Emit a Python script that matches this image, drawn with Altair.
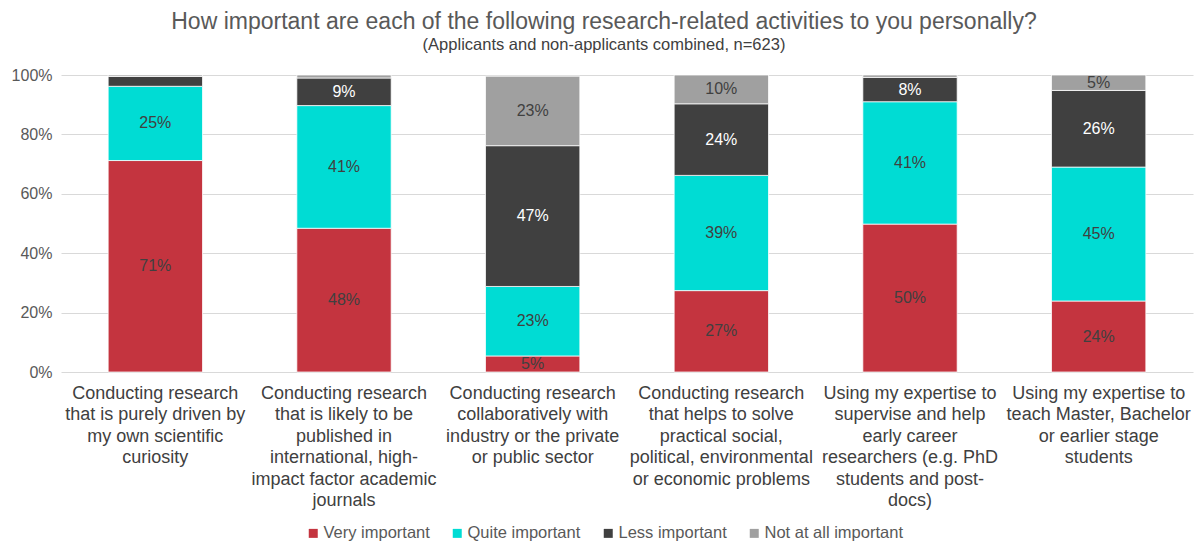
import altair as alt
import pandas as pd

category_lines = [
    ["Conducting research", "that is purely driven by", "my own scientific", "curiosity"],
    ["Conducting research", "that is likely to be", "published in", "international, high-", "impact factor academic", "journals"],
    ["Conducting research", "collaboratively with", "industry or the private", "or public sector"],
    ["Conducting research", "that helps to solve", "practical social,", "political, environmental", "or economic problems"],
    ["Using my expertise to", "supervise and help", "early career", "researchers (e.g. PhD", "students and post-", "docs)"],
    ["Using my expertise to", "teach Master, Bachelor", "or earlier stage", "students"],
]
series = ["Very important", "Quite important", "Less important", "Not at all important"]
very = [71.2, 48.4, 5.4, 27.4, 49.8, 23.9]
quite = [25.0, 41.3, 23.4, 38.8, 41.2, 45.1]
less = [3.3, 9.3, 47.4, 24.1, 8.2, 25.8]
not_at_all = [0.5, 1.0, 23.4, 9.7, 0.8, 5.2]
colors = ["#C4343F", "#00DCD4", "#404040", "#A0A0A0"]

FONT = "Liberation Sans"

rows = []
for i, lines in enumerate(category_lines):
    cat = "|".join(lines)
    for j, (s, vals) in enumerate(zip(series, [very, quite, less, not_at_all])):
        rows.append({"cat": cat, "series": s, "order": j, "value": vals[i] / 100})
df = pd.DataFrame(rows)
cat_order = ["|".join(l) for l in category_lines]

base = alt.Chart(df).transform_stack(
    stack="value", groupby=["cat"], sort=[alt.SortField("order")], as_=["y0", "y1"]
).transform_calculate(mid="(datum.y0 + datum.y1) / 2")

x_enc = alt.X(
    "cat:N",
    sort=cat_order,
    title=None,
    scale=alt.Scale(paddingInner=0.5, paddingOuter=0.25),
    axis=alt.Axis(
        labelExpr="split(datum.label, '|')",
        labelAngle=0,
        labelFontSize=18,
        labelFont=FONT,
        labelColor="#404040",
        labelLineHeight=21.5,
        labelBaseline="top",
        labelPadding=12,
        labelLimit=0,
        ticks=False,
        domain=False,
        grid=False,
    ),
)

bars = base.mark_bar(stroke="white", strokeWidth=0.75).encode(
    x=x_enc,
    y=alt.Y(
        "y0:Q",
        title=None,
        scale=alt.Scale(domain=[0, 1], nice=False),
        axis=alt.Axis(
            values=[0, 0.2, 0.4, 0.6, 0.8, 1.0],
            format=".0%",
            labelFontSize=16,
            labelFont=FONT,
            labelColor="#595959",
            labelPadding=9,
            ticks=False,
            domain=False,
            gridColor="#D9D9D9",
            gridWidth=1,
        ),
    ),
    y2="y1:Q",
    color=alt.Color(
        "series:N",
        scale=alt.Scale(domain=series, range=colors),
        legend=alt.Legend(
            title=None,
            orient="none",
            direction="horizontal",
            legendX=244,
            legendY=450,
            symbolType="square",
            symbolSize=81,
            symbolStrokeWidth=0,
            labelFontSize=16.5,
            labelFont=FONT,
            labelColor="#595959",
            labelOffset=2,
            columnPadding=19,
        ),
    ),
)

text = base.transform_filter("datum.value >= 0.045").mark_text(
    fontSize=16, font=FONT
).encode(
    x=alt.X("cat:N", sort=cat_order),
    y=alt.Y("mid:Q"),
    text=alt.Text("value:Q", format=".0%"),
    color=alt.condition(
        "datum.series == 'Less important'", alt.value("white"), alt.value("#404040")
    ),
)

chart = (
    alt.layer(bars, text)
    .properties(
        width=1132,
        height=297,
        padding={"left": 61, "top": 75, "right": 2, "bottom": 170},
        autosize=alt.AutoSizeParams(type="none"),
        title=alt.TitleParams(
            text="How important are each of the following research-related activities to you personally?",
            subtitle="(Applicants and non-applicants combined, n=623)",
            fontSize=23,
            subtitleFontSize=16.5,
            font=FONT,
            subtitleFont=FONT,
            fontWeight="normal",
            color="#595959",
            subtitleColor="#404040",
            anchor="middle",
            offset=14,
            dx=-23,
            subtitlePadding=3,
        ),
    )
    .configure_view(stroke=None)
)

chart.save("out.html", embed_options={"renderer": "svg", "actions": False})
